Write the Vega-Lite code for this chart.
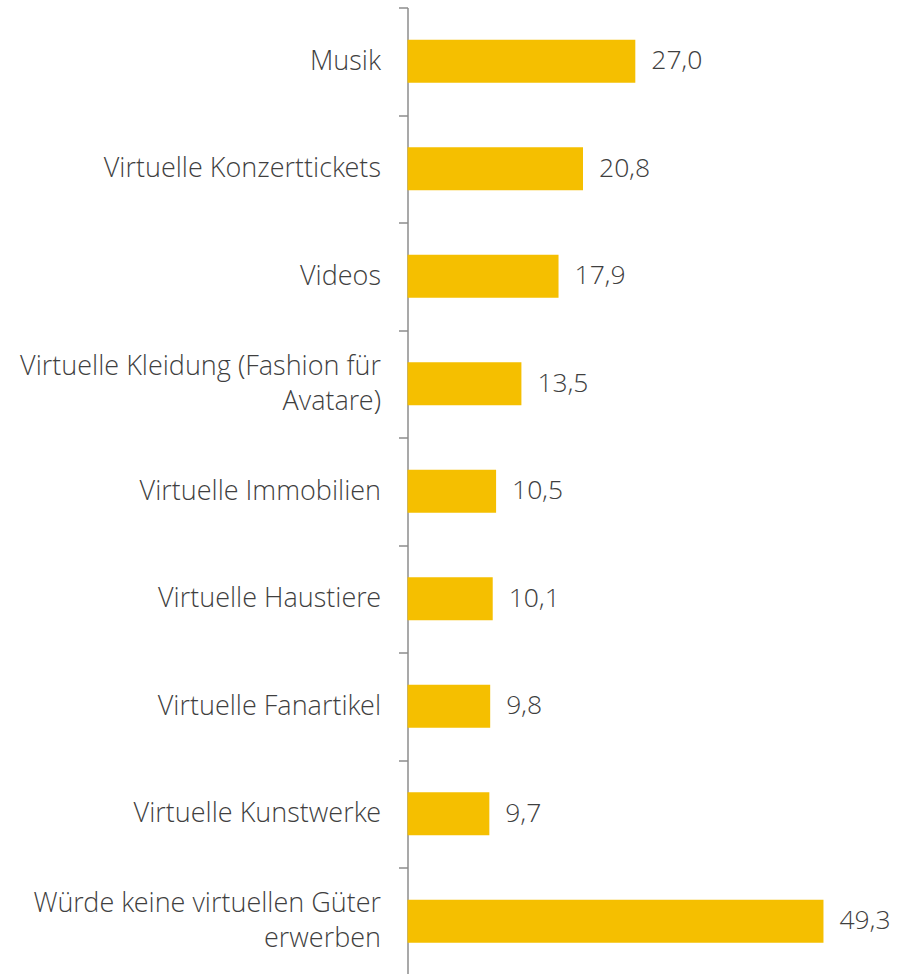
{
  "$schema": "https://vega.github.io/schema/vega-lite/v6.json",
  "autosize": {"type": "none"},
  "padding": {"left": 407.5, "top": 7.5, "right": 0, "bottom": 0},
  "width": 499.5,
  "height": 967.5,
  "background": "white",
  "config": {
    "locale": {"number": {"decimal": ",", "thousands": ".", "grouping": [3], "currency": ["", " €"]}},
    "view": {"stroke": null},
    "font": "Open Sans"
  },
  "data": {
    "values": [
      {"kategorie": "Musik", "wert": 27.0},
      {"kategorie": "Virtuelle Konzerttickets", "wert": 20.8},
      {"kategorie": "Videos", "wert": 17.9},
      {"kategorie": "Virtuelle Kleidung (Fashion für Avatare)", "wert": 13.5},
      {"kategorie": "Virtuelle Immobilien", "wert": 10.5},
      {"kategorie": "Virtuelle Haustiere", "wert": 10.1},
      {"kategorie": "Virtuelle Fanartikel", "wert": 9.8},
      {"kategorie": "Virtuelle Kunstwerke", "wert": 9.7},
      {"kategorie": "Würde keine virtuellen Güter erwerben", "wert": 49.3}
    ]
  },
  "resolve": {"axis": {"y": "independent"}},
  "layer": [
    {
      "mark": {"type": "bar", "color": "#F5BF00", "height": {"band": 0.4}},
      "encoding": {
        "y": {
          "field": "kategorie",
          "type": "nominal",
          "sort": null,
          "scale": {"paddingInner": 0, "paddingOuter": 0},
          "axis": {
            "orient": "left",
            "title": null,
            "tickBand": "extent",
            "tickSize": 9,
            "tickColor": "#8c8c8c",
            "tickWidth": 1.5,
            "domainColor": "#8c8c8c",
            "domainWidth": 1.5,
            "labelPadding": 18,
            "labelFont": "Open Sans Light, Open Sans",
            "labelFontWeight": 300,
            "labelFontSize": 27,
            "labelColor": "#3f3f3f",
            "labelLimit": 500,
            "labelExpr": "(datum.label == 'Virtuelle Kleidung (Fashion für Avatare)' || datum.label == 'Würde keine virtuellen Güter erwerben') ? '' : datum.label"
          }
        },
        "x": {
          "field": "wert",
          "type": "quantitative",
          "scale": {"domain": [0, 59.2], "nice": false},
          "axis": null
        }
      }
    },
    {
      "mark": {"type": "text", "align": "left", "baseline": "middle", "dx": 16, "font": "Open Sans Light, Open Sans", "fontWeight": 300, "fontSize": 26.5, "color": "#3f3f3f"},
      "encoding": {
        "y": {
          "field": "kategorie",
          "type": "nominal",
          "sort": null,
          "axis": {
            "orient": "left",
            "title": null,
            "ticks": false,
            "tickSize": 0,
            "domain": false,
            "labelPadding": 27,
            "labelOffset": -17,
            "labelFont": "Open Sans Light, Open Sans",
            "labelFontWeight": 300,
            "labelFontSize": 27,
            "labelColor": "#3f3f3f",
            "labelLimit": 500,
            "labelLineHeight": 35,
            "labelExpr": "datum.label == 'Virtuelle Kleidung (Fashion für Avatare)' ? ['Virtuelle Kleidung (Fashion für', 'Avatare)'] : datum.label == 'Würde keine virtuellen Güter erwerben' ? ['Würde keine virtuellen Güter', 'erwerben'] : ''"
          }
        },
        "x": {
          "field": "wert",
          "type": "quantitative"
        },
        "text": {"field": "wert", "type": "quantitative", "format": ".1f"}
      }
    }
  ]
}
